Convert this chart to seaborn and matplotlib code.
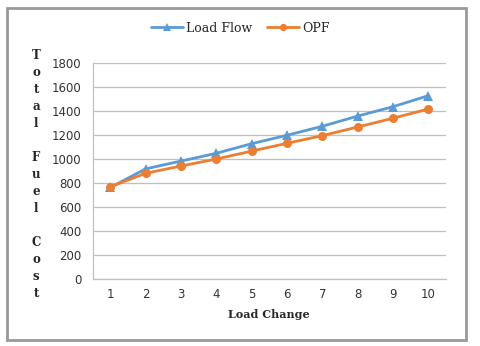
import matplotlib
matplotlib.use("Agg")
import matplotlib.pyplot as plt
import seaborn as sns
import pandas as pd
from matplotlib.patches import Rectangle

load_change = [1, 2, 3, 4, 5, 6, 7, 8, 9, 10]
load_flow = [765, 920, 985, 1050, 1130, 1200, 1275, 1360, 1438, 1530]
opf = [770, 883, 944, 1002, 1068, 1133, 1197, 1269, 1342, 1419]
series_names = ["Load Flow", "OPF"]
y_ticks = [0, 200, 400, 600, 800, 1000, 1200, 1400, 1600, 1800]

df = pd.DataFrame({
    "Load Change": load_change * 2,
    "Cost": load_flow + opf,
    "Series": [series_names[0]] * len(load_change) + [series_names[1]] * len(load_change),
})

sns.set_style("white")
plt.rcParams["font.family"] = ["DejaVu Serif"]

fig = plt.figure(figsize=(4.8, 3.46), dpi=100)
ax = fig.add_axes([0.193, 0.193, 0.736, 0.624])

palette = {"Load Flow": "#5B9BD5", "OPF": "#ED7D31"}
markers = {"Load Flow": "^", "OPF": "o"}
sns.lineplot(data=df, x="Load Change", y="Cost", hue="Series", style="Series",
             palette=palette, markers=markers, dashes=False, linewidth=2,
             markersize=6.5, markeredgewidth=0, ax=ax)

ax.set_xlim(0.5, 10.5)
ax.set_ylim(0, 1800)
ax.set_yticks(y_ticks)
ax.set_yticklabels([str(v) for v in y_ticks], fontsize=8.5, family="DejaVu Sans", color="#333333")
ax.set_xticks(load_change)
ax.set_xticklabels([str(v) for v in load_change], fontsize=8.5, family="DejaVu Sans", color="#333333")
ax.set_xticks([v + 0.5 for v in [0] + load_change], minor=True)
ax.tick_params(axis="x", which="major", length=0, pad=6)
ax.tick_params(axis="x", which="minor", length=4, color="#bfbfbf", width=0.8, direction="out")
ax.tick_params(axis="y", which="major", length=4, color="#bfbfbf", width=0.8, direction="out", pad=4)
ax.grid(axis="y", color="#bfbfbf", linewidth=0.9)
ax.set_axisbelow(True)
for s in ["top", "right"]:
    ax.spines[s].set_visible(False)
for s in ["left", "bottom"]:
    ax.spines[s].set_color("#bfbfbf")
    ax.spines[s].set_linewidth(0.9)

ax.set_xlabel("Load Change", fontsize=8, fontweight="bold", labelpad=6)
ax.set_ylabel("")
fig.text(0.075, 0.496, "T\no\nt\na\nl\n\nF\nu\ne\nl\n\nC\no\ns\nt",
         fontsize=8.5, fontweight="bold", ha="center", va="center", linespacing=1.40)

leg = ax.legend(title=None, loc="center", bbox_to_anchor=(0.5, 0.919),
                bbox_transform=fig.transFigure, ncol=2, frameon=False,
                fontsize=9, handlelength=2.6, columnspacing=1.2, handletextpad=0.2,
                markerscale=0.8)

fig.patches.append(Rectangle((0.0146, 0.0173), 0.956, 0.96, transform=fig.transFigure,
                             fill=False, edgecolor="#999999", linewidth=2))

fig.savefig("out.png", dpi=100, facecolor="white")
